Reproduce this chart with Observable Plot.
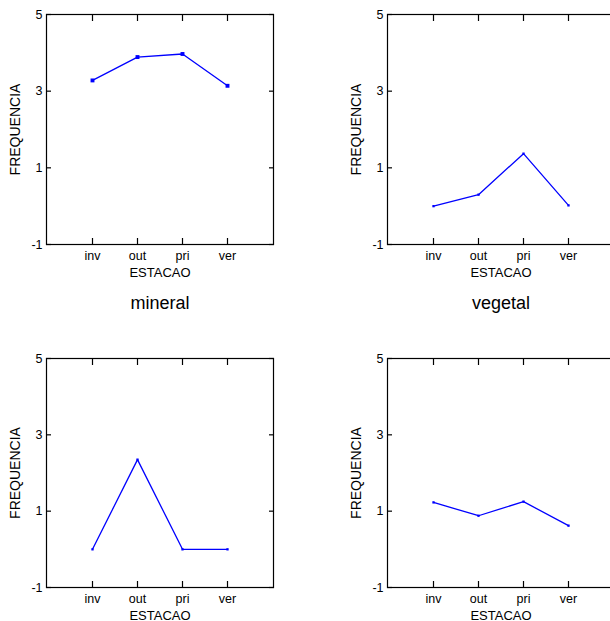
<!DOCTYPE html>
<html>
<head>
<meta charset="utf-8">
<script src="https://cdn.jsdelivr.net/npm/d3@7"></script>
<script src="https://cdn.jsdelivr.net/npm/@observablehq/plot@0.6"></script>
<style>
  html, body { margin: 0; padding: 0; background: #fff; }
  #wrap { position: relative; width: 610px; height: 621px; overflow: hidden; background: #fff; }
  .panel { position: absolute; }
</style>
</head>
<body>
<div id="wrap"></div>
<script>
// ---- data ----
const seasons = ["inv", "out", "pri", "ver"];
const yTicks = [-1, 1, 3, 5];
const panelTitles = ["", "", "mineral", "vegetal"];
const topLeftValues = [3.28, 3.89, 3.97, 3.14];
const topRightValues = [0.0, 0.30, 1.37, 0.02];
const mineralValues = [0.0, 2.35, 0.0, 0.0];
const vegetalValues = [1.23, 0.88, 1.25, 0.62];
const xLabel = "ESTACAO";
const yLabel = "FREQUENCIA";

const seriesList = [topLeftValues, topRightValues, mineralValues, vegetalValues];

const layouts = [
  {left: 0,   top: 0,   width: 305, height: 290, mt: 14, mb: 46, ml: 46, mr: 32, r: 2.2},
  {left: 305, top: 0,   width: 320, height: 290, mt: 14, mb: 46, ml: 82, mr: 11, r: 1.3},
  {left: 0,   top: 290, width: 305, height: 331, mt: 68, mb: 34, ml: 46, mr: 32, r: 1.3},
  {left: 305, top: 290, width: 320, height: 331, mt: 68, mb: 34, ml: 82, mr: 11, r: 1.3}
];

const wrap = document.getElementById("wrap");
const font = "'Liberation Sans', Arial, sans-serif";

seriesList.forEach((vals, i) => {
  const L = layouts[i];
  const data = seasons.map((s, j) => ({season: s, value: vals[j]}));
  const marks = [
    Plot.frame({stroke: "black", strokeWidth: 1.2}),
    // inward ticks
    Plot.axisX({anchor: "bottom", tickSize: 6, dy: -6, tickFormat: () => "", label: null, strokeWidth: 1.2}),
    Plot.axisX({anchor: "top", tickSize: 6, dy: 6, tickFormat: () => "", label: null, strokeWidth: 1.2}),
    Plot.axisY({anchor: "left", ticks: yTicks, tickSize: 5, dx: 5, tickFormat: () => "", label: null, strokeWidth: 1.2}),
    Plot.axisY({anchor: "right", ticks: yTicks, tickSize: 5, dx: -5, tickFormat: () => "", label: null, strokeWidth: 1.2}),
    // tick labels
    Plot.axisX({anchor: "bottom", tickSize: 0, tickPadding: 7, fontSize: 12.5, label: null}),
    Plot.axisY({anchor: "left", ticks: yTicks, tickSize: 0, tickPadding: 4, fontSize: 12.5, label: null, tickFormat: (d) => String(d)}),
    // axis titles
    Plot.text([xLabel], {frameAnchor: "bottom", dy: 28, lineAnchor: "middle", textAnchor: "middle", fontSize: 13, fill: "black"}),
    Plot.text([yLabel], {frameAnchor: "left", dx: -30.5, rotate: -90, textAnchor: "middle", lineAnchor: "middle", fontSize: 14, fill: "black"}),
    // data
    Plot.line(data, {x: "season", y: "value", stroke: "#0000ff", strokeWidth: 1.3}),
    Plot.dot(data, {x: "season", y: "value", symbol: "square", r: L.r, fill: "#0000ff", stroke: "none"})
  ];
  if (panelTitles[i]) {
    marks.push(Plot.text([panelTitles[i]], {frameAnchor: "top", dy: -50, fontSize: 18, fill: "black", lineAnchor: "bottom", textAnchor: "middle"}));
  }
  const chart = Plot.plot({
    width: L.width,
    height: L.height,
    marginTop: L.mt,
    marginBottom: L.mb,
    marginLeft: L.ml,
    marginRight: L.mr,
    style: {fontFamily: font, fontSize: "12.5px", color: "black", background: "transparent", overflow: "visible"},
    x: {type: "point", domain: seasons, padding: 1},
    y: {domain: [-1, 5]},
    marks
  });
  chart.classList.add("panel");
  chart.style.left = L.left + "px";
  chart.style.top = L.top + "px";
  wrap.appendChild(chart);
});
</script>
</body>
</html>
